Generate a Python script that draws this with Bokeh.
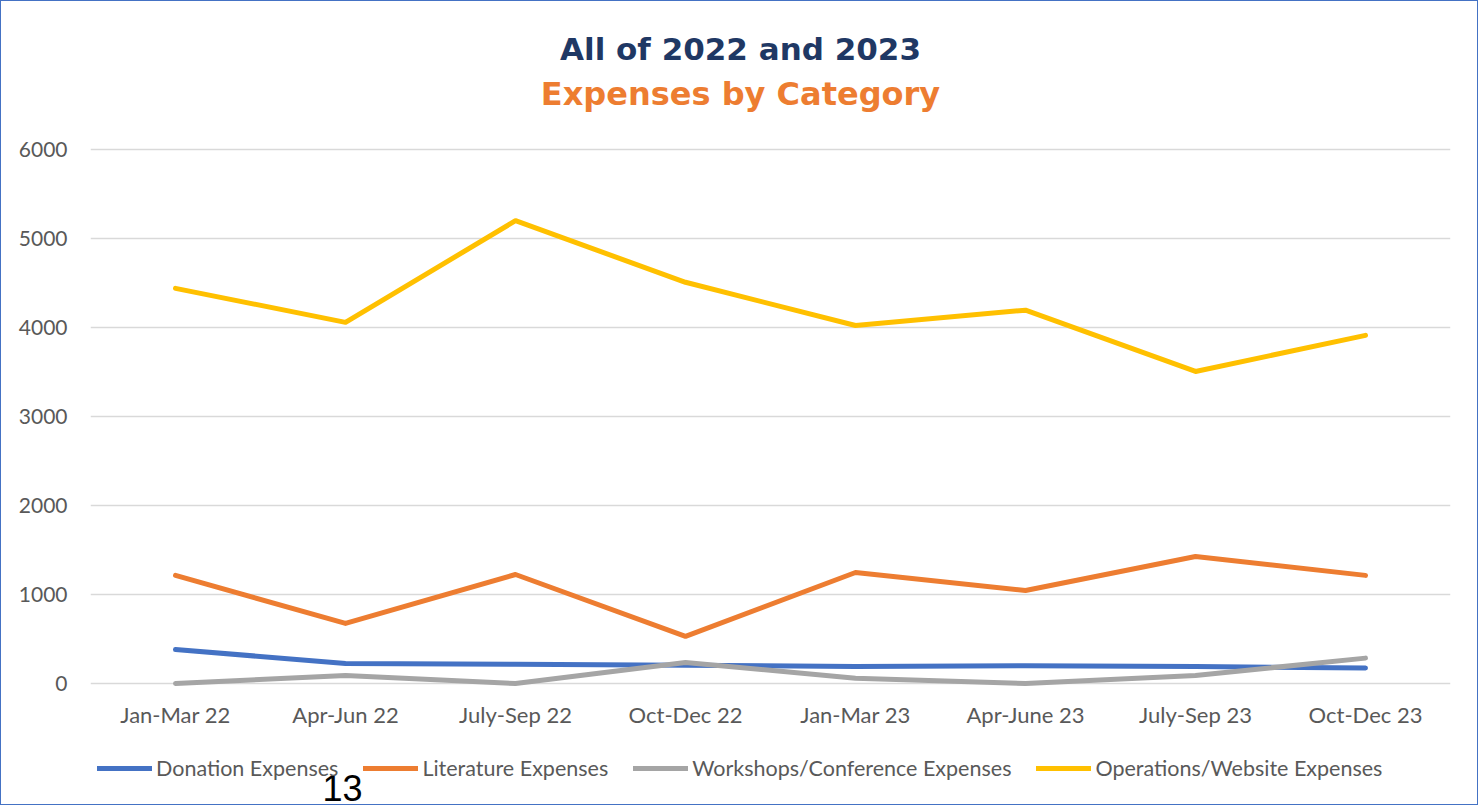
from bokeh.plotting import figure
from bokeh.models import (Range1d, FactorRange, Legend, LegendItem, Label, FixedTicker,
                          CategoricalAxis)
from bokeh.embed import file_html
from bokeh.resources import INLINE

quarters = ["Jan-Mar 22", "Apr-Jun 22", "July-Sep 22", "Oct-Dec 22",
            "Jan-Mar 23", "Apr-June 23", "July-Sep 23", "Oct-Dec 23"]
donation = [382, 225, 215, 205, 190, 200, 190, 175]
literature = [1215, 675, 1225, 530, 1247, 1045, 1427, 1215]
workshops = [0, 90, 0, 236, 60, 0, 90, 285]
operations = [4440, 4058, 5200, 4508, 4022, 4195, 3506, 3912]
y_ticks = [0, 1000, 2000, 3000, 4000, 5000, 6000]

series = [
    ("Donation Expenses", donation, "#4472C4"),
    ("Literature Expenses", literature, "#ED7D31"),
    ("Workshops/Conference Expenses", workshops, "#A5A5A5"),
    ("Operations/Website Expenses", operations, "#FFC000"),
]

# layout: frame fills the figure height; the value axis is mapped so that
# 0 sits at pixel 682 and 6000 at pixel 148 from the top of the figure
W, H = 1476, 803
ZERO_PX, TOP_PX = 682, 148
ppu = (ZERO_PX - TOP_PX) / 6000.0
y_lo = -(H - ZERO_PX) / ppu
y_hi = ZERO_PX / ppu

p = figure(x_range=FactorRange(*quarters, range_padding=0), y_range=Range1d(y_lo, y_hi),
           frame_width=1360, frame_height=H, output_backend="svg", toolbar_location=None,
           x_axis_location=None,
           min_border_left=89, min_border_right=W - 89 - 1360, min_border_top=0, min_border_bottom=0)
p.outline_line_color = None
p.background_fill_color = "white"
p.border_fill_color = "white"
p.styles = {"border": "1px solid #4472C4"}

items = []
for name, vals, col in series:
    r = p.line(x=quarters, y=vals, line_color=col, line_width=5,
               line_cap="round", line_join="round")
    items.append(LegendItem(label=name, renderers=[r]))

xaxis = CategoricalAxis(fixed_location=0)
p.add_layout(xaxis, "below")

p.xgrid.grid_line_color = None
p.ygrid.grid_line_color = "#D9D9D9"
p.ygrid.grid_line_width = 1.5
p.yaxis.ticker = FixedTicker(ticks=y_ticks)

for ax in (xaxis, p.yaxis[0]):
    ax.axis_line_color = None
    ax.major_tick_line_color = None
    ax.minor_tick_line_color = None
    ax.major_tick_out = 0
    ax.major_tick_in = 0
    ax.major_label_text_color = "#595959"
    ax.major_label_text_font = "Lato"
    ax.major_label_text_font_size = "22px"
p.yaxis.major_label_text_font_size = "21px"
p.yaxis.major_label_standoff = 23
xaxis.major_label_standoff = 17

legend = Legend(items=items, orientation="horizontal", location=(7, 23),
                label_text_font="Lato", label_text_font_size="21.5px",
                label_text_color="#595959", glyph_width=55, glyph_height=20,
                label_standoff=4, spacing=25, border_line_color=None,
                background_fill_alpha=0, margin=0, padding=0)
p.add_layout(legend)

p.add_layout(Label(x=650, y=756, x_units="screen", y_units="screen",
                   text="All of 2022 and 2023", text_align="center", text_baseline="middle",
                   text_font="DejaVu Sans", text_font_style="bold", text_font_size="31px",
                   text_color="#1F3864"))
p.add_layout(Label(x=650, y=711, x_units="screen", y_units="screen",
                   text="Expenses by Category", text_align="center", text_baseline="middle",
                   text_font="DejaVu Sans", text_font_style="bold", text_font_size="32px",
                   text_color="#ED7D31"))
p.add_layout(Label(x=252, y=30, x_units="screen", y_units="screen",
                   text="13", text_align="center", text_baseline="top",
                   text_font="Liberation Sans", text_font_size="36px",
                   text_color="#000000"))

open("out.html", "w").write(file_html(p, INLINE))
